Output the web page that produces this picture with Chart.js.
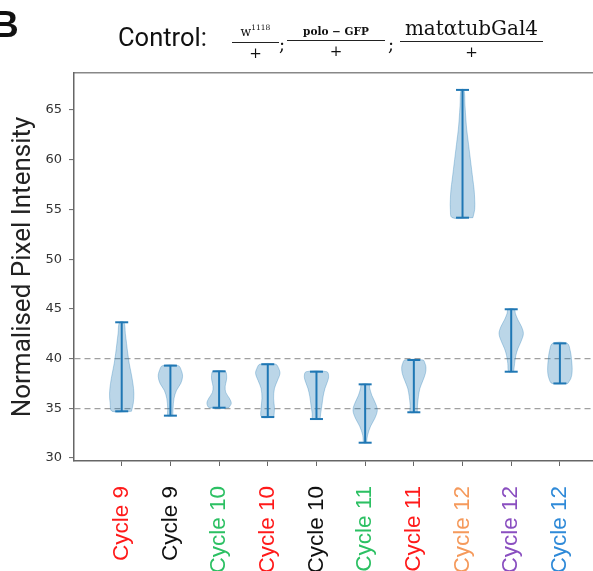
<!DOCTYPE html>
<html>
<head>
<meta charset="utf-8">
<script src="https://cdn.jsdelivr.net/npm/chart.js@4.4.1/dist/chart.umd.min.js"></script>
<style>
html,body{margin:0;padding:0;background:#fff;overflow:hidden;width:593px;height:571px;}
#wrap{position:relative;width:593px;height:571px;overflow:hidden;}
#chart{position:absolute;left:0;top:0;}
.t{position:absolute;white-space:nowrap;color:#111;line-height:1;}
#B{left:-8px;top:6px;font-weight:bold;font-size:37px;font-family:"Liberation Sans",Arial,sans-serif;}
#ctl{left:118px;top:25px;font-size:25.5px;font-family:Roboto,sans-serif;}
.frac{position:absolute;display:flex;flex-direction:column;align-items:center;font-family:"DejaVu Serif",serif;color:#111;}
.num{line-height:1;white-space:nowrap;padding:0 1px 3px 1px;}
.bar{align-self:stretch;border-top:1.4px solid #222;height:0;}
.den{font-size:15px;line-height:1;padding-top:3px;}
.semi{position:absolute;font-family:"DejaVu Serif",serif;font-size:18px;line-height:1;color:#111;}
sup{font-size:7.5px;vertical-align:6px;}
</style>
</head>
<body>
<div id="wrap">
<canvas id="chart" width="593" height="660"></canvas>
<div class="t" id="B">B</div>
<div class="t" id="ctl">Control:</div>
<div class="frac" id="f1" style="left:232px;top:24px;width:47px;"><div class="num" style="font-size:12.5px;">w<sup>1118</sup></div><div class="bar"></div><div class="den">+</div></div>
<div class="semi" style="left:279px;top:36px;">;</div>
<div class="frac" id="f2" style="left:287px;top:26px;width:98px;"><div class="num" style="font-size:10.5px;font-weight:bold;">polo − GFP</div><div class="bar"></div><div class="den">+</div></div>
<div class="semi" style="left:388px;top:36px;">;</div>
<div class="frac" id="f3" style="left:400px;top:18px;width:143px;"><div class="num" style="font-size:20px;">matαtubGal4</div><div class="bar"></div><div class="den">+</div></div>
</div>
<script>
// ---------------- data ----------------
const categories = ['Cycle 9','Cycle 9','Cycle 10','Cycle 10','Cycle 10','Cycle 11','Cycle 11','Cycle 12','Cycle 12','Cycle 12'];
const positions = [1,2,3,4,5,6,7,8,9,10];
const minValues = [34.70,34.26,35.06,34.12,33.92,31.54,34.60,54.17,38.68,37.50];
const maxValues = [43.65,39.29,38.72,39.43,38.68,37.41,39.86,67.02,44.96,41.53];
const yTicks = [30,35,40,45,50,55,60,65];
const refLines = [35,40];
// density profile of each violin: levels (y) and relative density (max = 1)
const densityLevels = [
  [34.70,35.5,36.5,37.5,38.5,39.5,40.5,41.5,42.5,43.65],
  [34.26,35.0,36.0,36.8,37.5,38.2,38.8,39.29],
  [35.06,35.5,36.0,36.6,37.2,37.8,38.3,38.72],
  [34.12,35.0,36.0,37.0,37.8,38.5,39.0,39.43],
  [33.92,34.5,35.3,36.2,37.0,37.6,38.2,38.68],
  [31.54,32.3,33.2,34.0,34.8,35.5,36.3,37.0,37.41],
  [34.60,35.3,36.2,37.0,37.8,38.5,39.1,39.5,39.86],
  [54.17,55,56,57,58,59,60,61,62,63,64,65.5,67.02],
  [38.68,39.5,40.3,41.0,41.7,42.5,43.2,43.9,44.5,44.96],
  [37.50,38.0,38.6,39.3,40.0,40.8,41.53]
];
const densityValues = [
  [0.80,0.95,1.00,0.92,0.78,0.62,0.50,0.40,0.30,0.18],
  [0.20,0.22,0.30,0.50,0.85,1.00,0.90,0.65],
  [0.80,1.00,0.85,0.55,0.50,0.60,0.62,0.50],
  [0.50,0.55,0.48,0.55,0.80,1.00,0.90,0.65],
  [0.30,0.35,0.45,0.55,0.70,0.88,1.00,0.85],
  [0.12,0.20,0.45,0.80,1.00,0.85,0.55,0.38,0.30],
  [0.28,0.30,0.38,0.50,0.75,0.95,1.00,0.92,0.75],
  [0.85,1.00,1.00,0.95,0.85,0.75,0.65,0.55,0.45,0.35,0.28,0.20,0.12],
  [0.20,0.28,0.38,0.55,0.80,1.00,0.85,0.55,0.35,0.25],
  [0.65,0.90,1.00,1.00,0.95,0.85,0.60]
];
const labelColors = ['#ff1a1a','#111111','#2cc063','#ff1a1a','#111111','#2cc063','#ff1a1a','#f59a5c','#8a4fc0','#2f8ad8'];

// ---------------- style ----------------
const BLUE = '#1f77b4';
const HALF_WIDTH = 0.25;

const bodyDatasets = positions.map((p, i) => {
  const lv = densityLevels[i], dv = densityValues[i];
  const right = lv.map((y, k) => ({x: p + HALF_WIDTH * dv[k], y}));
  const left = lv.map((y, k) => ({x: p - HALF_WIDTH * dv[k], y})).reverse();
  return {
    label: categories[i] + ' body',
    data: [...right, ...left, right[0]],
    showLine: true,
    fill: 'shape',
    tension: 0.35,
    backgroundColor: 'rgba(31,119,180,0.30)',
    borderColor: 'rgba(31,119,180,0.30)',
    borderWidth: 1,
    pointRadius: 0,
    order: 2
  };
});
const whiskerDatasets = positions.map((p, i) => ({
  label: categories[i] + ' range',
  data: [{x: p, y: minValues[i]}, {x: p, y: maxValues[i]}],
  showLine: true,
  fill: false,
  borderColor: BLUE,
  borderWidth: 2,
  pointStyle: 'line',
  pointRadius: 6.5,
  pointBorderWidth: 2,
  pointBorderColor: BLUE,
  pointBackgroundColor: BLUE,
  order: 1
}));

new Chart(document.getElementById('chart'), {
  type: 'scatter',
  data: {datasets: [...bodyDatasets, ...whiskerDatasets]},
  options: {
    responsive: false,
    devicePixelRatio: 1,
    animation: false,
    events: [],
    layout: {autoPadding: false, padding: {top: 73, left: 0, right: 0, bottom: 0}},
    plugins: {legend: {display: false}, tooltip: {enabled: false}, title: {display: false}},
    scales: {
      x: {
        type: 'linear', position: 'bottom', min: 0.02, max: 10.68,
        afterBuildTicks: s => { s.ticks = positions.map(v => ({value: v})); },
        afterFit: s => { s.height = 199; s.paddingLeft = 0; s.paddingRight = 0; },
        grid: {display: true, drawOnChartArea: false, drawTicks: true, tickLength: 5, tickColor: '#666', tickWidth: 1},
        border: {display: true, color: '#666', width: 1.5},
        ticks: {
          autoSkip: false, minRotation: 90, maxRotation: 90, padding: 20,
          font: {family: '"Liberation Sans", Arial, sans-serif', size: 22.5},
          color: c => labelColors[c.index],
          callback: (v) => categories[positions.indexOf(v)]
        }
      },
      xTop: {
        type: 'linear', position: 'top', min: 0.02, max: 10.68,
        afterFit: s => { s.height = 0; s.paddingLeft = 0; s.paddingRight = 0; },
        grid: {display: false, drawTicks: false},
        border: {display: true, color: '#888', width: 1.5},
        ticks: {display: false}
      },
      y: {
        type: 'linear', position: 'left', min: 29.7, max: 68.72,
        afterBuildTicks: s => { s.ticks = yTicks.map(v => ({value: v})); },
        afterFit: s => { s.width = 74; },
        grid: {
          display: true, drawOnChartArea: true, drawTicks: true, tickLength: 5,
          tickColor: '#666', tickWidth: 1,
          color: c => refLines.includes(c.tick && c.tick.value) ? '#a0a0a0' : 'rgba(0,0,0,0)',
          lineWidth: 1.2
        },
        border: {display: true, color: '#666', width: 1.5, dash: [6, 4]},
        ticks: {
          padding: 7, color: '#333',
          font: {family: '"DejaVu Sans", sans-serif', size: 13},
          callback: v => String(v)
        },
        title: {
          display: true, text: 'Normalised Pixel Intensity', color: '#222',
          font: {family: 'Roboto, sans-serif', size: 26, weight: 'normal'},
          padding: {top: 8, bottom: 0}
        }
      }
    }
  }
});
</script>
</body>
</html>
